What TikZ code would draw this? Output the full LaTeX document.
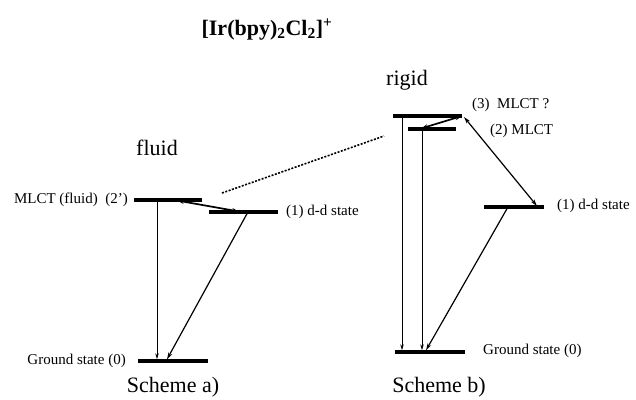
\documentclass[tikz,border=0pt]{standalone}
\usepackage{fontspec}
\setmainfont{Liberation Serif}
\usetikzlibrary{arrows.meta}
\begin{document}
\begin{tikzpicture}[x=1pt,y=-1pt,
  level/.style={draw=none,fill=black,inner sep=0pt,minimum height=3.5pt},
  lbl/.style={inner sep=0pt,font=\fontsize{15}{15}\selectfont},
  big/.style={inner sep=0pt,font=\fontsize{22}{22}\selectfont},
  vdecay/.style={-{Stealth[length=6pt,width=3.4pt]},line width=0.9pt},
  ddecay/.style={-{Stealth[length=7pt,width=4pt]},line width=1.2pt},
  equil/.style={{Stealth[length=7pt,width=4.5pt]}-{Stealth[length=7pt,width=4.5pt]},line width=1.7pt},
  corr/.style={line width=1.6pt,dash pattern=on 2pt off 1.5pt}
]
\useasboundingbox (0,0) rectangle (636,399);

% title
\node[inner sep=0pt,anchor=base,font=\bfseries\fontsize{22}{22}\selectfont] (title) at (267,35)
  {[Ir(bpy)\textsubscript{2}Cl\textsubscript{2}]\textsuperscript{+}};

% ---------- Scheme a ----------
\node[big,anchor=base] (fluid) at (157,155) {fluid};
\node[level,minimum width=68pt] (mlctA) at (168,200) {};
\node[level,minimum width=69pt] (ddA) at (243.5,212) {};
\node[level,minimum width=70pt] (gA) at (173,361) {};

\node[lbl,anchor=mid east] (mlctAl) at (128,201) {MLCT (fluid)\ \ (2')};
\node[lbl,anchor=mid west] (ddAl) at (286,213) {(1) d-d state};
\node[lbl,anchor=mid east] (gAl) at (126,362) {Ground state (0)};
\node[big,anchor=base] (schA) at (173,392) {Scheme a)};

\coordinate (a1) at (157,201.5);
\coordinate (a2) at (157,359.3);
\coordinate (a3) at (247,213.7);
\coordinate (a4) at (167,359.3);
\coordinate (a5) at (177,200.5);
\coordinate (a6) at (239,211.5);
\draw[vdecay] (a1) -- (a2);
\draw[ddecay] (a3) -- (a4);
\draw[equil] (a5) -- (a6);

% correlation line
\coordinate (c1) at (222,193);
\coordinate (c2) at (384,136);
\draw[corr] (c1) -- (c2);

% ---------- Scheme b ----------
\node[big,anchor=base] (rigid) at (407,85) {rigid};
\node[level,minimum width=69pt] (l3) at (427.5,116) {};
\node[level,minimum width=48pt] (l2) at (432,129) {};
\node[level,minimum width=60pt] (ddB) at (514,207) {};
\node[level,minimum width=70pt] (gB) at (430,352) {};

\node[lbl,anchor=mid west] (l3l) at (472,106) {(3)\ \ MLCT ?};
\node[lbl,anchor=mid west] (l2l) at (490,132) {(2) MLCT};
\node[lbl,anchor=mid west] (ddBl) at (557,207) {(1) d-d state};
\node[lbl,anchor=mid west] (gBl) at (483,352) {Ground state (0)};
\node[big,anchor=base] (schB) at (439,392) {Scheme b)};

\coordinate (b1) at (402,117.7);
\coordinate (b2) at (402,350.3);
\coordinate (b3) at (422,130.7);
\coordinate (b4) at (422,350.3);
\coordinate (b5) at (507,208.7);
\coordinate (b6) at (426,350.3);
\coordinate (b7) at (462,116);
\coordinate (b8) at (421,128.5);
\coordinate (b9) at (464,117);
\coordinate (b10) at (537,206);
\draw[vdecay] (b1) -- (b2);
\draw[vdecay] (b3) -- (b4);
\draw[ddecay] (b5) -- (b6);
\draw[equil] (b7) -- (b8);
\draw[{Stealth[length=7pt,width=4pt]}-{Stealth[length=7pt,width=4pt]},line width=1.2pt] (b9) -- (b10);
\end{tikzpicture}
\end{document}
